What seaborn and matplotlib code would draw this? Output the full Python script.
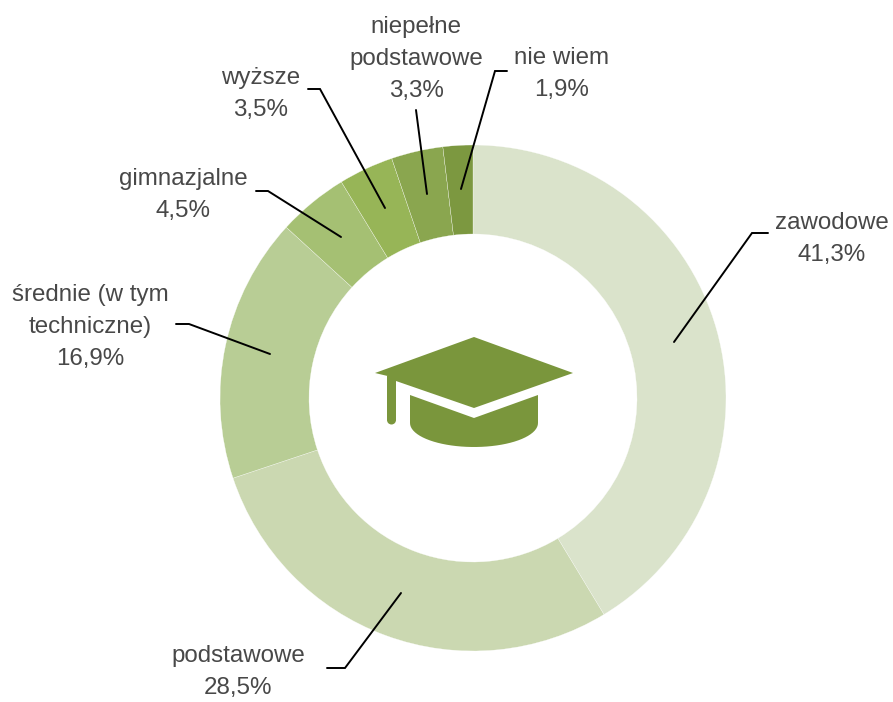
import numpy as np
import matplotlib.pyplot as plt
import seaborn as sns
from matplotlib.patches import Polygon, Ellipse, Rectangle

## chart data
categories = ['zawodowe', 'podstawowe', 'średnie (w tym\ntechniczne)', 'gimnazjalne', 'wyższe',
              'niepełne\npodstawowe', 'nie wiem']
values = [41.3, 28.5, 16.9, 4.5, 3.5, 3.3, 1.9]
value_labels = ['41,3%', '28,5%', '16,9%', '4,5%', '3,5%', '3,3%', '1,9%']
colors = ['#DAE3CB', '#CBD8B1', '#B8CD95', '#A5C073', '#97B557', '#8AA64F', '#7C9840']

## label centres and leader lines, in picture pixels
label_pos = [(832, 239), (238, 672), (90, 327), (183, 195), (261, 94), (416, 59), (562, 74)]
leaders = [
    [(674, 342), (752, 233), (768, 233)],
    [(401, 593), (345, 668), (327, 668)],
    [(270, 354), (189, 324), (176, 324)],
    [(341, 237), (268, 191), (256, 191)],
    [(385, 208), (320, 89), (308, 89)],
    [(427, 194), (416, 110)],
    [(461, 189), (495, 71), (507, 71)],
]

H = 702
ICON = '#7A963C'


def flip(pts):
    return [(x, H - y) for x, y in pts]


sns.set_theme(style='white')
plt.rcParams['font.family'] = ['Liberation Sans', 'DejaVu Sans']

fig = plt.figure(figsize=(8.93, 7.02), dpi=100)
ax = fig.add_axes([0, 0, 1, 1])

palette = sns.color_palette(colors)
ax.pie(values, colors=palette, startangle=90, counterclock=False, center=(473, H - 398), radius=253,
       wedgeprops={'width': 89, 'edgecolor': '#FFFFFF', 'linewidth': 0.2}, frame=True)

ax.set_xlim(0, 893)
ax.set_ylim(0, H)
ax.set_aspect('equal')
ax.axis('off')

#### labels and leader lines
for cat, val, pos, line in zip(categories, value_labels, label_pos, leaders):
    ax.text(pos[0], H - pos[1], cat + '\n' + val, ha='center', va='center', fontsize=17.4,
            color='#484848', linespacing=1.6)
    pts = flip(line)
    ax.plot([p[0] for p in pts], [p[1] for p in pts], color='black', lw=1.4, solid_joinstyle='miter')

#### graduation cap icon
t = np.linspace(0, np.pi, 40)
base = [(410, 395), (474, 418), (538, 395)] + [(474 + 64 * np.cos(a), 423 + 24 * np.sin(a)) for a in t]
ax.add_patch(Polygon(flip(base), color=ICON, lw=0))
ax.add_patch(Polygon(flip([(474, 337), (573, 373), (474, 408), (396, 381), (396, 378), (375, 373)]),
                     color=ICON, lw=0))
ax.add_patch(Rectangle((387, H - 420), 9, 44, color=ICON, lw=0))
ax.add_patch(Ellipse((391.5, H - 420), 9, 9, color=ICON, lw=0))

plt.savefig('out.png', dpi=100)
